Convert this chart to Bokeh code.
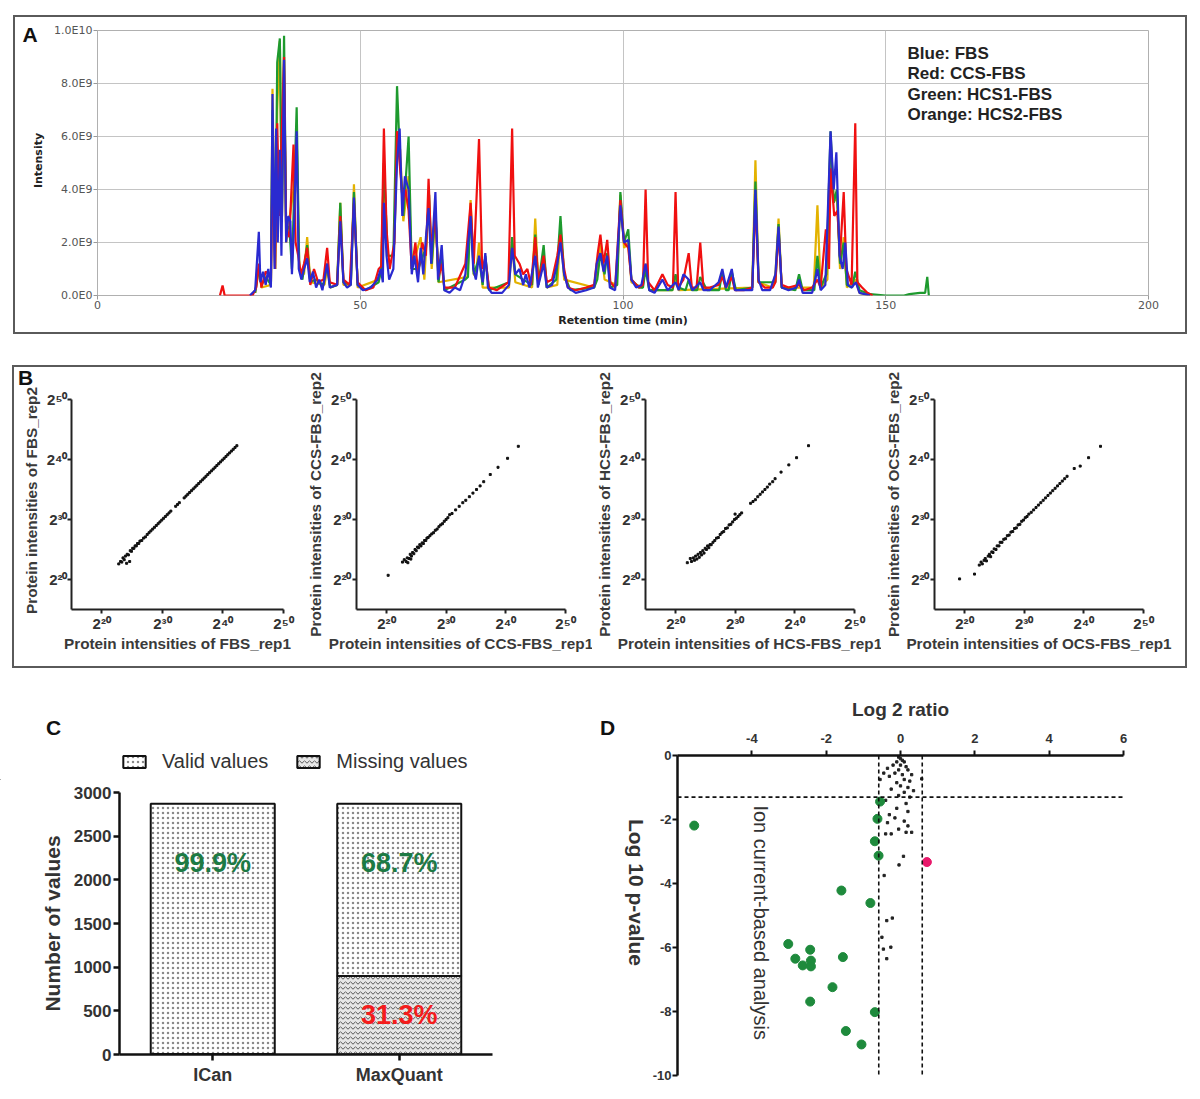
import math
from bokeh.plotting import figure
from bokeh.models import (ColumnDataSource, Label, Legend, LegendItem, FixedTicker,
                          Span, Spacer, FactorRange, Range1d)
from bokeh.layouts import column, row
from bokeh.embed import file_html
from bokeh.resources import INLINE
from bokeh.core.properties import value

# ======================= DATA =======================
# Panel A: base-peak chromatograms (retention time [min], intensity [x1E9])
fbs_trace = [(29,0),(30,0.2),(30.7,2.4),(31.0,0.5),(31.5,0.9),(32,0.4),(32.5,1.0),(33.0,0.3),(33.3,7.6),(33.7,1.0),
    (34.0,6.3),(34.3,2.0),(34.7,5.5),(35.0,1.5),(35.5,8.9),(35.9,2.0),(36.3,3.0),(36.7,2.8),(37.0,0.8),(37.4,2.6),
    (37.9,6.2),(38.3,1.0),(38.8,0.6),(39.3,1.0),(39.9,1.4),(40.4,0.5),(41,0.9),(41.6,0.3),(42.2,0.6),(42.8,0.2),
    (43.7,1.2),(44.2,0.3),(45.6,0.4),(46.2,2.8),(46.8,0.5),(47.5,0.3),(48.2,0.4),(48.8,3.7),(49.5,0.4),(50.5,0.2),
    (52,0.3),(53.3,0.6),(53.9,1.0),(54.3,0.5),(54.5,3.5),(55,1.5),(55.5,0.6),(56.3,1.0),(57.0,5.0),(57.5,6.3),
    (58.0,3.0),(58.5,4.5),(59.2,4.0),(59.8,0.8),(60.3,1.5),(61.0,0.5),(61.5,1.8),(62,0.8),(62.5,2.2),(63.0,3.3),
    (63.5,1.2),(64.3,3.9),(64.8,0.6),(65.5,1.9),(66.0,0.2),(67,0.1),(68,0.3),(69,0.2),(70,0.8),(71.0,3.0),
    (71.5,1.0),(72,0.6),(72.6,1.5),(73.3,0.5),(73.8,1.6),(74.3,0.3),(75,0.1),(77,0.1),(78.3,0.4),(78.9,1.8),
    (79.5,0.8),(80.3,1.0),(81,0.4),(81.5,0.8),(82.2,0.3),(83.3,1.5),(83.8,0.3),(84.9,1.2),(85.5,0.3),(86.5,0.4),
    (87.5,1.2),(88.1,2.0),(88.8,0.8),(89.5,0.3),(91,0.1),(93,0.2),(94.5,0.3),(95,1.2),(95.7,1.6),(96.3,0.9),
    (97,1.5),(97.5,0.3),(98.5,0.2),(99.5,3.4),(100.2,2.0),(101,2.1),(101.6,0.6),(102.5,0.3),(103.5,0.4),(104.3,1.2),
    (105,0.2),(106,0.1),(107.5,0.6),(108.5,0.2),(110,0.5),(110.6,0.2),(111.5,0.8),(112.5,0.6),(113.2,0.2),(114.7,0.5),
    (115.3,0.2),(116.5,0.2),(118.2,0.5),(118.9,1.0),(119.6,0.3),(120.7,1.0),(121.3,0.2),(122.5,0.2),(124.6,0.2),(125.2,4.0),
    (125.8,0.6),(126.5,0.2),(128,0.2),(129.0,0.8),(129.6,2.6),(130.2,0.3),(131.5,0.2),(133.0,0.3),(133.5,0.6),(134.2,0.1),
    (136.0,0.1),(137.0,1.0),(137.6,0.2),(138.5,0.4),(139.5,6.2),(140.1,4.0),(140.6,5.4),(141.2,1.5),(141.8,1.0),(142.3,2.0),
    (142.8,0.4),(143.5,0.3),(144.3,0.5),(145,0.1),(146,0.05),(147,0.0)]
ccs_trace = [(23.3,0),(23.8,0.38),(24.2,0),(29.5,0),(30.2,0.3),(30.7,1.2),(31.2,0.3),(32,0.9),(32.6,0.8),(33.0,0.5),
    (33.3,5.0),(33.8,1.0),(34.2,6.5),(34.6,3.0),(35.0,5.8),(35.5,9.0),(35.9,2.5),(36.5,2.2),(37.3,5.7),(37.7,2.0),
    (38.2,1.5),(38.7,0.8),(39.3,1.2),(39.9,1.8),(40.5,0.4),(41.2,1.0),(42,0.5),(43,0.6),(43.7,1.8),(44.2,0.5),
    (45.6,0.4),(46.2,3.0),(46.8,0.6),(48,0.4),(48.8,3.5),(49.5,0.5),(51,0.2),(52.5,0.3),(53.5,1.0),(54.0,1.1),
    (54.5,6.3),(55.0,2.5),(55.6,1.0),(56.5,2.0),(57.0,6.2),(57.5,5.0),(58.1,3.5),(58.6,4.0),(59.2,3.2),(59.8,1.0),
    (60.5,2.0),(61,0.8),(61.8,2.0),(62.5,1.5),(63.0,4.4),(63.5,1.8),(64.3,3.0),(64.9,0.7),(65.5,1.2),(66,0.3),
    (68,0.3),(70,1.2),(71.0,3.5),(71.6,1.2),(72.6,5.9),(73.2,1.0),(73.8,1.4),(74.5,0.3),(76,0.2),(78.2,0.5),
    (78.9,6.3),(79.4,1.5),(80.3,1.2),(81,0.8),(81.8,1.0),(82.5,0.4),(83.3,2.2),(83.9,0.5),(84.9,1.5),(85.5,0.5),
    (86.5,0.6),(87.5,1.5),(88.1,2.3),(88.8,1.0),(89.5,0.3),(91,0.2),(93,0.3),(94.5,0.4),(95.2,1.6),(95.7,2.3),
    (96.3,1.2),(97,2.1),(97.6,0.5),(98.5,0.3),(99.5,3.6),(100.2,2.0),(101,1.8),(101.6,0.6),(103,0.3),(103.8,0.4),
    (104.3,4.0),(104.8,0.5),(106,0.2),(107.5,0.8),(108.5,0.4),(109.5,0.3),(110,3.9),(110.5,0.3),(111.5,0.6),(112.5,1.6),
    (113.1,0.3),(114,0.3),(114.7,2.0),(115.3,0.3),(116.5,0.3),(118.2,0.4),(118.9,0.7),(119.6,0.3),(120.7,0.7),(121.3,0.2),
    (123,0.2),(124.6,0.3),(125.2,3.6),(125.8,0.5),(127,0.3),(128.5,0.3),(129.0,0.5),(129.6,2.4),(130.2,0.4),(131.5,0.3),
    (133.5,0.4),(134.5,0.2),(136.0,0.3),(137.0,0.6),(137.6,0.3),(138.6,2.5),(139.2,1.0),(139.5,4.8),(140.2,3.0),(140.8,3.2),
    (141.3,1.5),(142.0,3.9),(142.5,1.0),(143.5,0.4),(144.2,6.5),(144.6,0.5),(145.5,0.3),(146.5,0.1),(147.5,0.0)]
hcs1_trace = [(30,0.1),(30.7,1.0),(31.2,0.4),(32,0.7),(33.0,0.4),(33.3,7.0),(33.8,1.0),(34.2,8.8),(34.7,9.7),(35.1,3.0),
    (35.5,9.8),(35.9,2.5),(36.5,2.6),(37.0,1.0),(37.9,7.1),(38.4,1.0),(39,0.6),(39.9,1.9),(40.5,0.5),(41.5,0.6),
    (43,0.4),(43.7,1.2),(44.3,0.3),(45.6,0.4),(46.2,3.5),(46.8,0.5),(48.2,0.4),(48.8,3.9),(49.5,0.4),(51,0.2),
    (53.5,0.5),(54.0,1.0),(54.5,5.0),(55.2,1.5),(56.3,1.5),(57.0,7.9),(57.6,5.0),(58.2,3.0),(59.2,6.0),(59.8,1.0),
    (61,1.0),(62.5,1.8),(63.1,3.8),(63.6,1.2),(64.3,3.3),(64.9,0.5),(65.5,1.5),(66,0.2),(70,0.6),(70.5,0.7),
    (71.0,3.3),(71.6,0.8),(72.6,1.4),(73.3,0.4),(73.8,1.5),(74.5,0.2),(78.3,0.5),(78.9,2.2),(79.5,0.8),(81,0.6),
    (82.7,0.4),(83.3,2.3),(83.9,0.4),(84.9,1.9),(85.5,0.3),(87.3,0.6),(88.1,3.0),(88.8,0.8),(90,0.2),(94.5,0.3),
    (95.1,0.6),(95.7,1.6),(96.5,0.8),(97,1.6),(97.6,0.3),(98.9,0.4),(99.5,3.9),(100.2,2.0),(101,2.5),(101.6,0.6),
    (103,0.3),(103.8,0.3),(104.3,1.0),(105,0.2),(109.4,0.2),(110,0.8),(110.6,0.3),(111.9,0.2),(112.5,0.6),(113.1,0.2),
    (114.1,0.2),(114.7,0.7),(116,0.2),(118.3,0.2),(118.9,0.9),(119.6,0.2),(120.1,0.2),(120.7,0.9),(121.5,0.2),(124.6,0.3),
    (125.2,4.3),(125.8,0.5),(129.0,0.5),(129.6,2.7),(130.2,0.3),(132.8,0.2),(133.5,0.8),(134.2,0.2),(136.4,0.2),(137.0,1.5),
    (137.6,0.3),(138.7,0.8),(139.5,6.2),(140.1,3.5),(140.7,4.0),(141.3,1.2),(142.0,2.0),(142.6,0.4),(143.6,0.3),(144.2,0.9),
    (145,0.2),(147,0.05),(150,0.0),(153.5,0.0),(154.5,0.05),(156.5,0.1),(157.5,0.1),(157.9,0.7),(158.2,0.0)]
hcs2_trace = [(30,0.1),(30.7,1.1),(31.2,0.3),(33.0,0.4),(33.3,7.8),(33.8,1.0),(34.2,7.0),(34.7,9.6),(35.1,3.0),(35.5,8.0),
    (35.9,2.0),(37.3,4.0),(37.9,6.0),(38.4,1.0),(39.3,0.8),(39.9,2.2),(40.5,0.5),(43.2,0.4),(43.7,1.0),(44.3,0.3),
    (45.6,0.4),(46.2,3.5),(46.8,0.4),(48.2,0.4),(48.8,4.2),(49.5,0.3),(53.5,0.6),(54.0,1.0),(54.5,5.0),(55.2,1.5),
    (56.4,1.5),(57.0,6.0),(57.6,5.5),(58.2,2.8),(59.2,4.5),(59.8,1.0),(61.5,2.2),(62.2,0.6),(63.0,3.5),(63.6,1.0),
    (64.3,3.1),(64.9,0.5),(70.4,0.7),(71.0,3.6),(71.6,0.8),(72.0,0.7),(72.6,2.0),(73.3,0.3),(78.3,0.3),(78.9,2.0),
    (79.5,0.5),(82.7,0.3),(83.3,2.9),(83.9,0.4),(84.9,1.4),(85.5,0.3),(87.5,0.4),(88.1,2.5),(88.8,0.6),(94.5,0.3),
    (95.1,0.8),(95.7,2.0),(96.5,0.6),(98.8,0.4),(99.5,3.8),(100.2,1.8),(101,2.0),(101.6,0.5),(103.7,0.3),(104.3,1.2),
    (105,0.2),(109.4,0.2),(110,0.7),(110.6,0.2),(124.6,0.3),(125.2,5.1),(125.8,0.5),(128.4,0.3),(129.0,0.8),(129.6,2.9),
    (130.2,0.3),(136.3,0.3),(137.0,3.4),(137.6,0.3),(138.9,0.6),(139.5,6.0),(140.1,3.5),(140.7,3.8),(141.3,1.0),(142.0,2.2),
    (142.6,0.3),(144.2,0.6),(145,0.1),(147,0.0)]
chrom_legend = ["Blue: FBS", "Red: CCS-FBS", "Green: HCS1-FBS", "Orange: HCS2-FBS"]
time_ticks = [0, 50, 100, 150, 200]
intensity_ticks = [0, 2, 4, 6, 8, 10]
intensity_tick_labels = ["0.0E0", "2.0E9", "4.0E9", "6.0E9", "8.0E9", "1.0E10"]

# Panel B: log2 protein intensities (rep1, rep2)
fbs_points = [(22.8,22.6),(23.1,23.0),(23.3,22.9),(23.5,23.6),(23.7,23.3),(23.9,23.9),(24.1,22.7),(24.2,24.2),(24.4,24.1),
    (24.6,23.0),(24.7,24.8),(24.9,24.7),(25.1,25.2),(25.3,25.2),(25.5,25.6),(25.7,25.6),(25.9,26.0),(26.1,26.0),(26.3,26.4),
    (26.6,26.5),(26.9,26.9),(27.2,27.1),(27.5,27.5),(27.8,27.8),(28.1,28.1),(28.4,28.4),(28.7,28.7),(29.0,29.0),(29.3,29.3),
    (29.6,29.6),(29.9,29.9),(30.2,30.2),(30.5,30.5),(30.8,30.8),(31.1,31.1),(31.4,31.4),(32.2,32.2),(32.5,32.5),(32.8,32.8),
    (33.6,33.6),(33.9,33.9),(34.2,34.2),(34.5,34.5),(34.8,34.8),(35.1,35.1),(35.4,35.4),(35.7,35.7),(36.0,36.0),(36.3,36.3),
    (36.6,36.6),(36.9,36.9),(37.2,37.2),(37.5,37.5),(37.8,37.8),(38.1,38.1),(38.4,38.4),(38.7,38.7),(39.0,39.0),(39.3,39.3),
    (39.6,39.6),(39.9,39.9),(40.2,40.2),(40.5,40.5),(40.8,40.8),(41.1,41.1),(41.4,41.4),(41.7,41.7),(42.0,42.0),(42.3,42.3)]
ccs_points = [(20.3,20.7),(22.7,22.9),(23.0,23.3),(23.3,23.0),(23.6,22.8),(23.5,23.6),(23.8,23.5),(24.0,24.2),(24.1,23.4),
    (24.2,23.9),(24.4,24.5),(24.6,24.3),(24.8,25.0),(25.0,24.8),(25.2,25.4),(25.4,25.3),(25.6,25.8),(25.8,25.6),(26.0,26.1),
    (26.2,26.0),(26.4,26.5),(26.6,26.5),(26.8,26.9),(27.0,27.0),(27.3,27.3),(27.6,27.6),(27.9,27.8),(28.2,28.2),(28.5,28.4),
    (28.8,28.8),(29.1,29.1),(29.4,29.3),(29.7,29.7),(30.0,30.0),(30.3,30.3),(30.6,30.8),(31.0,31.0),(31.6,31.6),(32.2,32.2),
    (32.8,32.8),(33.3,33.2),(33.9,33.8),(34.5,34.4),(35.1,35.0),(35.7,35.6),(36.3,36.3),(37.4,37.5),(38.7,38.7),(40.3,40.2),
    (42.1,42.2)]
hcs_points = [(22.0,22.8),(22.5,23.5),(22.7,23.0),(23.0,23.6),(23.2,23.2),(23.4,23.9),(23.6,23.4),(23.8,24.2),(24.0,23.7),
    (24.2,24.5),(24.4,24.1),(24.6,24.8),(24.8,24.4),(25.0,25.2),(25.2,25.0),(25.4,25.6),(25.6,25.3),(25.8,25.8),(26.0,25.8),
    (26.3,26.2),(26.6,26.5),(26.9,26.9),(27.2,27.0),(27.5,27.5),(27.8,27.8),(28.1,28.0),(28.4,28.5),(28.7,28.6),(29.0,29.1),
    (29.3,29.2),(29.6,29.6),(29.9,30.0),(30.2,30.2),(30.0,30.9),(30.5,30.5),(30.8,30.8),(31.1,31.1),(32.6,32.7),(33.0,33.0),
    (33.4,33.3),(33.8,33.8),(34.2,34.2),(34.6,34.6),(35.0,35.0),(35.4,35.4),(35.8,35.9),(36.3,36.3),(36.7,36.8),(37.7,37.9),
    (39.0,39.1),(40.3,40.3),(42.3,42.3)]
ocs_points = [(19.2,20.1),(21.7,20.9),(22.5,22.4),(22.8,22.9),(23.0,22.6),(23.3,23.2),(23.5,23.5),(23.7,23.1),(24.0,23.9),
    (24.2,24.2),(24.4,23.8),(24.6,24.6),(24.8,24.5),(25.0,25.1),(25.3,25.0),(25.5,25.6),(25.8,25.6),(26.0,26.2),(26.3,26.2),
    (26.6,26.7),(26.9,26.8),(27.2,27.3),(27.5,27.4),(27.8,27.9),(28.1,28.0),(28.4,28.5),(28.7,28.6),(29.0,29.1),(29.3,29.2),
    (29.6,29.7),(29.9,29.9),(30.2,30.3),(30.5,30.5),(30.8,30.9),(31.2,31.2),(31.6,31.6),(32.0,32.0),(32.4,32.4),(32.8,32.8),
    (33.2,33.2),(33.6,33.6),(34.0,34.0),(34.4,34.4),(34.8,34.8),(35.2,35.2),(35.6,35.6),(36.0,36.0),(36.4,36.4),(36.8,36.8),
    (37.2,37.2),(38.4,38.5),(39.4,38.9),(40.8,40.3),(42.8,42.2)]
sample_names = ["FBS", "CCS-FBS", "HCS-FBS", "OCS-FBS"]
log2_ticks = [20, 30, 40, 50]
log2_tick_labels = ["2\u00b2\u2070", "2\u00b3\u2070", "2\u2074\u2070", "2\u2075\u2070"]

# Panel C: valid / missing values
methods = ["ICan", "MaxQuant"]
valid_counts = [2867, 1972]
missing_counts = [3, 898]
valid_pct = ["99.9%", "68.7%"]
missing_pct = ["", "31.3%"]
count_ticks = [0, 500, 1000, 1500, 2000, 2500, 3000]

# Panel D: volcano plot
green_log2 = [-5.55,-0.55,-0.62,-0.69,-0.59,-1.59,-0.81,-3.02,-2.43,-2.83,-2.63,-2.41,-2.41,-1.55,-1.83,-2.43,-0.69,-1.47,-1.05]
green_logp = [-2.19,-1.44,-1.98,-2.68,-3.13,-4.22,-4.61,-5.89,-6.07,-6.35,-6.56,-6.41,-6.59,-6.30,-7.24,-7.69,-8.02,-8.61,-9.03]
red_log2 = [0.71]
red_logp = [-3.33]
other_log2 = [-0.05,0.0,0.05,-0.1,0.1,-0.2,0.0,0.15,-0.35,-0.05,0.2,-0.45,-0.15,0.05,0.3,-0.3,0.1,-0.55,0.25,-0.1,0.57,
    0.0,0.2,-0.25,0.35,0.1,-0.05,0.25,-0.4,0.15,-0.1,0.2,-0.3,-0.15,0.1,-0.35,0.2,-0.05,-0.4,-0.25,0.15,0.3,0.08,-0.04,
    -0.44,-0.22,-0.37,-0.5,-0.26,-0.46,-0.37]
other_logp = [-0.05,-0.1,-0.15,-0.2,-0.2,-0.3,-0.3,-0.35,-0.4,-0.45,-0.45,-0.55,-0.55,-0.6,-0.6,-0.65,-0.75,-0.75,-0.8,-0.85,-0.73,
    -0.95,-1.0,-1.05,-1.1,-1.15,-1.25,-1.3,-1.4,-1.5,-1.65,-1.75,-1.85,-1.95,-2.05,-2.1,-2.2,-2.3,-2.45,-2.45,-2.4,-2.4,-3.15,-3.42,
    -3.75,-5.08,-5.16,-5.68,-5.99,-6.05,-6.35]
ratio_cutoffs = [-0.585, 0.585]
pvalue_cutoff = -1.301
ratio_ticks = [-4, -2, 0, 2, 4, 6]
ratio_tick_labels = ["-4", "-2", "0", "2", "4", "6"]
logp_ticks = [0, -2, -4, -6, -8, -10]
logp_tick_labels = ["0", "-2", "-4", "-6", "-8", "-10"]

# ======================= STYLE =======================
FONT = "Liberation Sans"
TXT = "#333333"
BOX = {"border": "2px solid #5a5a5a"}


def helper(w, h):
    """Axis-less figure whose frame fills the canvas; holds texts lying outside the data frames (pixel coords)."""
    p = figure(width=w, height=h, x_range=Range1d(0, w), y_range=Range1d(0, h),
               x_axis_type=None, y_axis_type=None, output_backend="svg", toolbar_location=None,
               min_border=0, min_border_left=0, min_border_right=0, min_border_top=0, min_border_bottom=0)
    p.outline_line_color = None
    p.grid.visible = False
    return p


def put_text(p, x, y, txt, size, bold=True, font=FONT, color="#111111", angle=0.0):
    p.text(x=[x], y=[y], text=[txt], angle=angle, text_font=value(font),
           text_font_style="bold" if bold else "normal", text_font_size=size,
           text_color=color, text_align="center", text_baseline="middle")


# ----------------------- Panel A -----------------------
hA = helper(35, 315)
put_text(hA, 14.5, 298.5, "A", "21px")
put_text(hA, 23, 172, "Intensity", "11px", font="DejaVu Sans", color="#222222", angle=math.pi / 2)

pA = figure(width=1135, height=315, x_range=Range1d(0, 200), y_range=Range1d(0, 10),
            output_backend="svg", toolbar_location=None,
            min_border_left=47, min_border_right=37, min_border_top=13, min_border_bottom=37)
for trace, color in [(hcs2_trace, "#e3b200"), (hcs1_trace, "#1e9a2e"), (ccs_trace, "#f01010"), (fbs_trace, "#2a2ad0")]:
    t, inten = zip(*trace)
    pA.line(list(t), list(inten), line_color=color, line_width=2.2)
pA.xaxis.ticker = FixedTicker(ticks=time_ticks)
pA.yaxis.ticker = FixedTicker(ticks=intensity_ticks)
pA.yaxis.major_label_overrides = dict(zip(intensity_ticks, intensity_tick_labels))
pA.xaxis.axis_label = "Retention time (min)"
for ax in (pA.xaxis[0], pA.yaxis[0]):
    ax.axis_line_color = None
    ax.major_tick_line_color = "#999999"
    ax.major_tick_out = 4
    ax.major_tick_in = 0
    ax.minor_tick_line_color = None
    ax.major_label_text_font = "DejaVu Sans"
    ax.major_label_text_font_size = "11px"
    ax.major_label_text_color = "#555555"
    ax.major_label_standoff = 1
    ax.axis_label_text_font = "DejaVu Sans"
    ax.axis_label_text_font_size = "11px"
    ax.axis_label_text_font_style = "bold"
    ax.axis_label_text_color = "#222222"
pA.xaxis.axis_label_standoff = 2
pA.grid.grid_line_color = "#c4c4c4"
pA.outline_line_color = "#b0b0b0"
for i, name in enumerate(chrom_legend):
    pA.add_layout(Label(x=810, y=242 - 20.3 * i, x_units="screen", y_units="screen", text=name,
                        text_font=FONT, text_font_style="bold", text_font_size="17px",
                        text_color="#222222", text_align="left", text_baseline="middle"))
rowA = row(column(hA), column(pA), styles=BOX)

# ----------------------- Panel B -----------------------
hB = helper(27, 299)
put_text(hB, 11, 289, "B", "21px")
put_text(hB, 17, 166, "Protein intensities of FBS_rep2", "15.3px", color="#3a3a3a", angle=math.pi / 2)

b_figs = []
for k, (pts, name) in enumerate(zip([fbs_points, ccs_points, hcs_points, ocs_points], sample_names)):
    if k == 0:
        w, mbl, mbr = 262, 30, 20
    elif k < 3:
        w, mbl, mbr = 289, 50, 27
    else:
        w, mbl, mbr = 304, 50, 42
    p = figure(width=w, height=299, x_range=Range1d(15, 50), y_range=Range1d(15, 50),
               output_backend="svg", toolbar_location=None,
               min_border_left=mbl, min_border_right=mbr, min_border_top=32, min_border_bottom=57)
    xs, ys = zip(*pts)
    p.scatter(list(xs), list(ys), marker="square", size=2.0, color="#111111")
    p.xaxis.axis_label = "Protein intensities of %s_rep1" % name
    if k > 0:
        p.yaxis.axis_label = "Protein intensities of %s_rep2" % name
    for ax in (p.xaxis[0], p.yaxis[0]):
        ax.ticker = FixedTicker(ticks=log2_ticks)
        ax.major_label_overrides = dict(zip(log2_ticks, log2_tick_labels))
        ax.axis_line_width = 2
        ax.axis_line_color = "#222222"
        ax.major_tick_line_width = 2
        ax.major_tick_line_color = "#222222"
        ax.major_tick_out = 4
        ax.major_tick_in = 0
        ax.minor_tick_line_color = None
        ax.major_label_text_font = FONT
        ax.major_label_text_font_style = "bold"
        ax.major_label_text_font_size = "15px"
        ax.major_label_text_color = TXT
        ax.major_label_standoff = 1
        ax.axis_label_text_font = FONT
        ax.axis_label_text_font_style = "bold"
        ax.axis_label_text_font_size = "15.3px"
        ax.axis_label_text_color = "#3a3a3a"
    p.xaxis.axis_label_standoff = 0
    p.yaxis.axis_label_standoff = 4 if k > 0 else 0
    if k == 0:
        p.yaxis.major_label_standoff = 0
    p.grid.visible = False
    p.outline_line_color = None
    b_figs.append(p)
rowB = row(column(hB), column(b_figs[0]), b_figs[1], b_figs[2], b_figs[3], styles=BOX)

# ----------------------- Panel C -----------------------
srcC = ColumnDataSource(dict(method=methods, valid=valid_counts, missing=missing_counts,
                             total=[v + m for v, m in zip(valid_counts, missing_counts)],
                             half_missing=[m / 2 for m in missing_counts],
                             vpct=valid_pct, mpct=missing_pct))
valid_style = dict(fill_color="white", hatch_pattern="dot", hatch_scale=5, hatch_color="#8a8a8a",
                   hatch_weight=1.1, line_color="#111111", line_width=2)
missing_style = dict(fill_color="#e6e6e6", hatch_pattern="horizontal_wave", hatch_scale=5,
                     hatch_color="#555555", hatch_weight=1, line_color="#111111", line_width=2)

hC = helper(592, 100)
put_text(hC, 53, 53, "C", "21px")
# legend keys: swatch renderers kept far outside the helper's range so only the legend shows them
lv = hC.vbar(x=[-5000], bottom=[-5010], top=[-5000], width=1, **valid_style)
lm = hC.vbar(x=[-5000], bottom=[-5010], top=[-5000], width=1, **missing_style)
hC.add_layout(Legend(items=[LegendItem(label="Valid values", renderers=[lv]),
                            LegendItem(label="Missing values", renderers=[lm])],
                     location=(120, 7), orientation="horizontal", glyph_width=28, glyph_height=15,
                     label_standoff=14, spacing=26, padding=0, margin=0,
                     label_text_font=FONT, label_text_font_size="20px", label_text_color=TXT,
                     border_line_color=None, background_fill_alpha=0))

pC = figure(width=592, height=312, x_range=FactorRange(*methods), y_range=Range1d(0, 3000),
            output_backend="svg", toolbar_location=None,
            min_border_left=119, min_border_right=100, min_border_top=12, min_border_bottom=38)
pC.vbar(x="method", bottom="missing", top="total", width=0.665, source=srcC, **valid_style)
pC.vbar(x="method", bottom=0, top="missing", width=0.665, source=srcC, **missing_style)
pC.text(x="method", y=2190, text="vpct", source=srcC, text_color="#1d7a44",
        text_font=value(FONT), text_font_style="bold", text_font_size="27px",
        text_align="center", text_baseline="middle")
pC.text(x="method", y="half_missing", text="mpct", source=srcC, text_color="#f41c1c",
        text_font=value(FONT), text_font_style="bold", text_font_size="27px",
        text_align="center", text_baseline="middle")
pC.yaxis.ticker = FixedTicker(ticks=count_ticks)
pC.yaxis.axis_label = "Number of values"
for ax in (pC.xaxis[0], pC.yaxis[0]):
    ax.axis_line_width = 2.5
    ax.axis_line_color = "#111111"
    ax.major_tick_line_width = 2.5
    ax.major_tick_line_color = "#111111"
    ax.major_tick_out = 6
    ax.major_tick_in = 0
    ax.minor_tick_line_color = None
    ax.major_label_text_font = FONT
    ax.major_label_text_font_style = "bold"
    ax.major_label_text_font_size = "17px"
    ax.major_label_text_color = TXT
    ax.major_label_standoff = 2
    ax.axis_label_text_font = FONT
    ax.axis_label_text_font_style = "bold"
    ax.axis_label_text_font_size = "21px"
    ax.axis_label_text_color = TXT
pC.xaxis.major_label_text_font_size = "18px"
pC.xaxis.major_label_standoff = 4
pC.yaxis.axis_label_standoff = 7
pC.x_range.range_padding = 0
pC.grid.visible = False
pC.outline_line_color = None

# ----------------------- Panel D -----------------------
hD = helper(57, 412)
put_text(hD, 15, 365, "D", "21px")
put_text(hD, 44, 200, "Log 10 p-value", "21px", color=TXT, angle=-math.pi / 2)

pD = figure(width=543, height=412, x_range=Range1d(-6, 6), y_range=Range1d(-10, 0),
            x_axis_location="above", output_backend="svg", toolbar_location=None,
            min_border_left=24, min_border_right=69, min_border_top=75, min_border_bottom=17)
for xc in ratio_cutoffs:
    pD.add_layout(Span(location=xc, dimension="height", line_color="#111111", line_dash="4 3", line_width=1.6))
pD.add_layout(Span(location=pvalue_cutoff, dimension="width", line_color="#111111", line_dash="4 3", line_width=1.6))
pD.scatter(other_log2, other_logp, marker="square", size=2.3, color="#222222")
pD.scatter(green_log2, green_logp, size=9, color="#1e8a3c")
pD.scatter(red_log2, red_logp, size=9, color="#e8196b")
pD.xaxis.ticker = FixedTicker(ticks=ratio_ticks)
pD.xaxis.major_label_overrides = dict(zip(ratio_ticks, ratio_tick_labels))
pD.yaxis.ticker = FixedTicker(ticks=logp_ticks)
pD.yaxis.major_label_overrides = dict(zip(logp_ticks, logp_tick_labels))
pD.xaxis.axis_label = "Log 2 ratio"
for ax in (pD.xaxis[0], pD.yaxis[0]):
    ax.axis_line_width = 2.5
    ax.axis_line_color = "#111111"
    ax.major_tick_line_width = 2
    ax.major_tick_line_color = "#111111"
    ax.major_tick_out = 5
    ax.major_tick_in = 0
    ax.minor_tick_line_color = None
    ax.major_label_text_font = FONT
    ax.major_label_text_font_style = "bold"
    ax.major_label_text_font_size = "13px"
    ax.major_label_text_color = TXT
    ax.major_label_standoff = 8
    ax.axis_label_text_font = FONT
    ax.axis_label_text_font_style = "bold"
    ax.axis_label_text_font_size = "19px"
    ax.axis_label_text_color = TXT
pD.yaxis.major_label_standoff = 1
pD.xaxis.axis_label_standoff = 11
pD.grid.visible = False
pD.outline_line_color = None
pD.add_layout(Label(x=-3.76, y=-1.56, text="Ion current-based analysis", angle=-math.pi / 2,
                    text_font=FONT, text_font_size="20px", text_color="#333333",
                    text_align="left", text_baseline="middle"))

# ----------------------- Layout -----------------------
blockC = column(column(hC), column(pC))
blockD = row(column(hD), column(pD))
layout = column(
    Spacer(height=15),
    row(Spacer(width=13), rowA),
    Spacer(height=31),
    row(Spacer(width=12), rowB),
    Spacer(height=12),
    row(blockC, blockD),
)

open("out.html", "w").write(file_html(layout, INLINE))
